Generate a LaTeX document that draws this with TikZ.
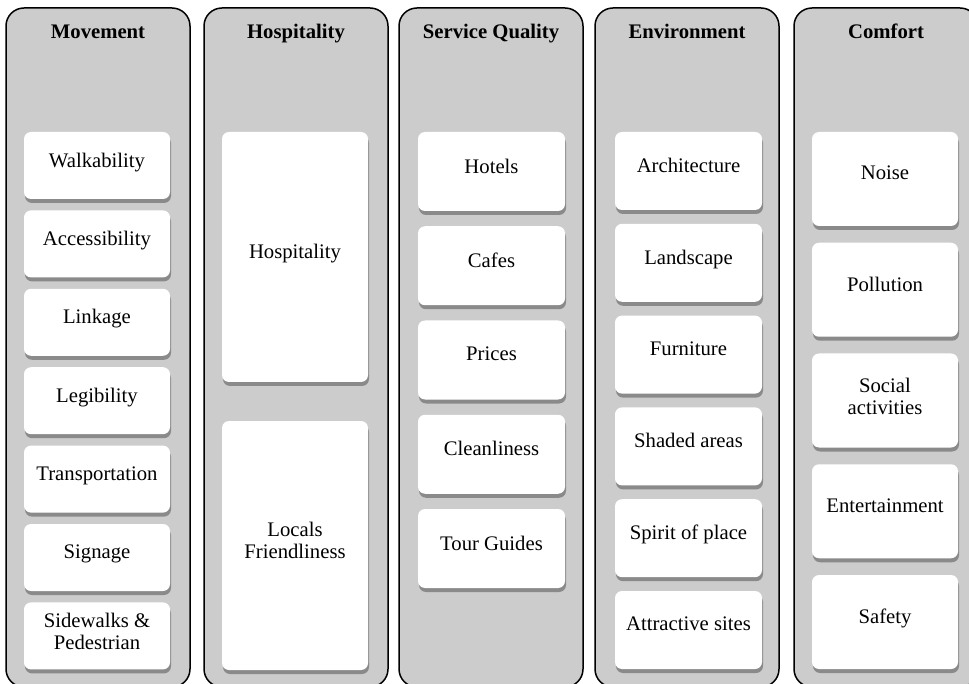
\documentclass[tikz,border=0pt]{standalone}
\usepackage{fontspec}
\setmainfont{Liberation Serif}
\usetikzlibrary{shadows}
\definecolor{panelgray}{HTML}{CCCCCC}
\definecolor{shadowgray}{HTML}{8A8A8A}
\newcommand\itm[7]{%
  \node[itembox, minimum width=#4pt, minimum height=#5pt] (#1) at (#2,{#3+#5/2}) {};
  \node[itemtext, yshift=#6pt] (#1t) at (#1.center) {#7};}
\begin{document}
\begin{tikzpicture}[x=1pt,y=-1pt,
  panel/.style={draw=black, line width=1.5pt, fill=panelgray, rounded corners=18pt,
    minimum width=184pt, minimum height=679pt, inner sep=0pt},
  itembox/.style={fill=white, rounded corners=7pt, inner sep=0pt,
    drop shadow={shadow xshift=1pt, shadow yshift=-4pt, fill=shadowgray, opacity=1}},
  title/.style={font=\fontsize{20.7}{22}\selectfont\bfseries, anchor=base, inner sep=0pt},
  itemtext/.style={font=\fontsize{20.7}{22}\selectfont, anchor=north, inner sep=0pt, align=center},
]
\useasboundingbox (0,0) rectangle (969,684);
% panels
\node[panel] (p1) at (98,347.5) {};
\node[panel] (p2) at (296,347.5) {};
\node[panel] (p3) at (491,347.5) {};
\node[panel] (p4) at (687,347.5) {};
\node[panel] (p5) at (886,347.5) {};
% titles
\node[title] (t1) at (98,39) {Movement};
\node[title] (t2) at (296,39) {Hospitality};
\node[title] (t3) at (491,39) {Service Quality};
\node[title] (t4) at (687,39) {Environment};
\node[title] (t5) at (886,39) {Comfort};
% Movement
\itm{m1}{97}{132}{146}{67}{13}{Walkability}
\itm{m2}{97}{210.4}{146}{67}{13}{Accessibility}
\itm{m3}{97}{288.8}{146}{67}{13}{Linkage}
\itm{m4}{97}{367.2}{146}{67}{13}{Legibility}
\itm{m5}{97}{445.6}{146}{67}{13}{Transportation}
\itm{m6}{97}{524}{146}{67}{13}{Signage}
\itm{m7}{97}{602.4}{146}{67}{23}{Sidewalks \&\\Pedestrian}
% Hospitality
\itm{h1}{295}{132}{146}{250}{13}{Hospitality}
\itm{h2}{295}{421}{146}{249}{24}{Locals\\Friendliness}
% Service Quality
\itm{s1}{491.5}{132}{147}{79}{13}{Hotels}
\itm{s2}{491.5}{226.25}{147}{79}{13}{Cafes}
\itm{s3}{491.5}{320.5}{147}{79}{13}{Prices}
\itm{s4}{491.5}{414.75}{147}{79}{13}{Cleanliness}
\itm{s5}{491.5}{509}{147}{79}{13}{Tour Guides}
% Environment
\itm{e1}{688.5}{132}{147}{78}{13}{Architecture}
\itm{e2}{688.5}{223.8}{147}{78}{13}{Landscape}
\itm{e3}{688.5}{315.6}{147}{78}{13}{Furniture}
\itm{e4}{688.5}{407.4}{147}{78}{13}{Shaded areas}
\itm{e5}{688.5}{499.2}{147}{78}{13}{Spirit of place}
\itm{e6}{688.5}{591}{147}{78}{13}{Attractive sites}
% Comfort
\itm{c1}{885}{132}{146}{94}{13}{Noise}
\itm{c2}{885}{242.75}{146}{94}{13}{Pollution}
\itm{c3}{885}{353.5}{146}{94}{23}{Social\\activities}
\itm{c4}{885}{464.25}{146}{94}{13}{Entertainment}
\itm{c5}{885}{575}{146}{94}{13}{Safety}
\end{tikzpicture}
\end{document}
